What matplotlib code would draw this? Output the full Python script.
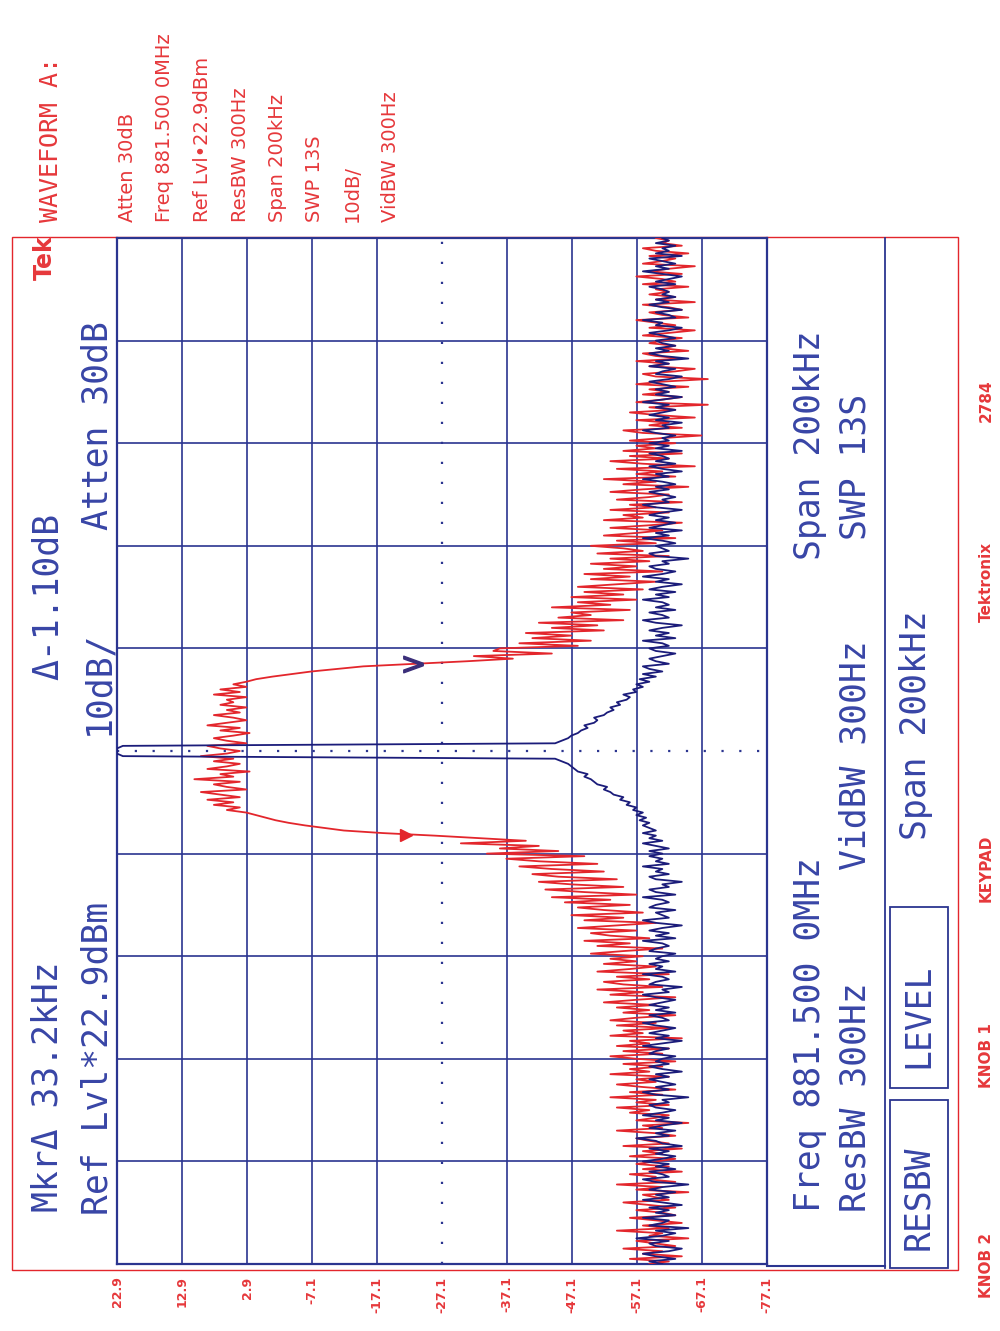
import numpy as np
import matplotlib
matplotlib.use("Agg")
import matplotlib.pyplot as plt
from matplotlib.patches import Rectangle

# ---------------- data ----------------
freq_start_khz = -100.0   # offset from 881.5 MHz centre
freq_step_khz = 0.5

# red trace (modulated carrier), dBm, 0.5 kHz steps from -100 kHz to +100 kHz
red_trace_dbm = [
    -59, -62, -56, -64, -58, -61, -55, -63, -60, -57, -65, -59, -61, -54, -62, -58, -64, -60, -56, -63,   # -100
    -61, -57, -63, -59, -55, -62, -60, -58, -65, -57, -61, -54, -63, -59, -60, -56, -64, -58, -62, -57,   # -90
    -60, -63, -56, -61, -58, -64, -55, -62, -59, -57, -63, -60, -54, -61, -58, -65, -57, -60, -62, -56,   # -80
    -59, -54, -62, -57, -60, -53, -61, -56, -63, -58, -54, -60, -57, -62, -53, -59, -56, -61, -55, -63,   # -70
    -57, -53, -61, -55, -62, -54, -59, -56, -64, -53, -58, -55, -62, -54, -60, -53, -57, -63, -55, -59,   # -60
    -54, -60, -52, -57, -63, -53, -58, -51, -61, -55, -52, -59, -54, -62, -51, -56, -60, -52, -57, -53,   # -50
    -58, -50, -55, -61, -51, -56, -49, -59, -53, -50, -57, -48, -54, -60, -49, -55, -47, -58, -52, -48,   # -40
    -56, -46, -53, -44, -57, -49, -43, -55, -47, -42, -54, -45, -41, -52, -44, -39, -51, -42, -37, -49,   # -30
    -34, -45, -36, -42, -30, -40, -33, -26, -18, -12, -9, -6, -3.5, -1.5, 0, 1.5, 3, 6, 4, 8,             # -20
    5, 9, 4, 7, 10, 3, 6, 8, 4, 11, 5, 7, 2.5, 9, 6, 4, 8, 5, 10, 6,                                     # -10
    4, 7, 9, 3, 6, 8, 5, 2.5, 7, 4, 9, 6, 3, 5, 8, 4, 6, 3, 7, 5,                                        # 0
    6, 3, 8, 4, 7, 3, 5, 3, 1.5, -1, -4, -7, -11, -15, -23, -31, -38, -32, -44, -35,                    # 10
    -36, -48, -39, -50, -41, -47, -40, -52, -44, -51, -42, -55, -45, -50, -47, -56, -44, -53, -48, -57,   # 20
    -47, -55, -49, -58, -48, -54, -60, -50, -56, -49, -61, -52, -57, -50, -59, -53, -62, -51, -58, -55,   # 30
    -50, -60, -54, -63, -52, -57, -61, -53, -59, -64, -52, -58, -55, -62, -53, -60, -56, -64, -54, -59,   # 40
    -62, -53, -58, -65, -55, -60, -52, -63, -57, -61, -54, -66, -58, -53, -62, -56, -64, -55, -60, -57,   # 50
    -63, -56, -61, -67, -58, -55, -64, -59, -62, -57, -66, -60, -56, -63, -59, -68, -57, -61, -64, -58,   # 60
    -62, -59, -65, -57, -61, -68, -60, -58, -63, -66, -59, -62, -57, -64, -60, -58, -65, -61, -63, -59,   # 70
    -61, -64, -58, -62, -66, -59, -63, -60, -57, -65, -61, -59, -64, -62, -58, -66, -60, -63, -59, -62,   # 80
    -60, -65, -58, -63, -61, -57, -64, -59, -62, -66, -58, -61, -63, -59, -65, -60, -58, -64, -61, -62,   # 90
    -60,                                                                                                 # 100
]

# blue trace (unmodulated carrier), dBm, same sweep points
blue_trace_dbm = [
    -61, -59, -63, -60, -58, -62, -64, -60, -59, -62, -57, -61, -63, -60, -65, -59, -61, -62, -58, -63,   # -100
    -60, -62, -59, -64, -61, -58, -62, -60, -63, -59, -61, -65, -60, -58, -62, -61, -59, -63, -60, -62,   # -90
    -58, -61, -63, -60, -62, -59, -64, -61, -60, -57, -62, -60, -63, -59, -61, -64, -60, -62, -58, -61,   # -80
    -63, -60, -59, -62, -61, -65, -60, -58, -62, -60, -63, -61, -59, -62, -60, -64, -61, -59, -62, -60,   # -70
    -61, -63, -59, -60, -62, -58, -61, -64, -60, -62, -59, -61, -63, -60, -58, -62, -61, -59, -63, -60,   # -60
    -62, -59, -61, -63, -60, -58, -62, -61, -64, -59, -60, -62, -61, -58, -63, -60, -61, -59, -62, -60,   # -50
    -61, -63, -59, -60, -62, -61, -58, -63, -60, -62, -59, -61, -64, -60, -58, -62, -61, -60, -63, -59,   # -40
    -60, -62, -61, -58, -63, -60, -59, -62, -61, -64, -60, -59, -62, -60, -61, -58, -62, -60, -61, -59,   # -30
    -61, -59, -62, -60, -58, -61, -59, -60, -58, -60, -59, -58, -59, -57.5, -58.5, -57, -58, -56.5, -57, -55.5,  # -20
    -56, -54.5, -55, -53.5, -53, -52, -52.5, -51, -50.5, -50, -49, -49.5, -48, -47.5, -47, -46.5, -45.5, -44.5, 22.0, 22.9,  # -10
    22.9, 22.9, 22.0, -44.5, -45.5, -46.5, -47, -48, -48.5, -49.5, -49, -50.5, -51, -50.5, -52, -52.5, -53.5, -53, -54.5, -54,  # 0
    -55.5, -56, -55, -57, -56.5, -58, -57, -59, -57.5, -60, -58, -61, -59, -58, -62, -60, -59, -61, -63, -60,  # 10
    -59, -62, -61, -58, -63, -60, -62, -59, -61, -64, -60, -58, -62, -61, -59, -63, -60, -62, -61, -58,   # 20
    -62, -60, -63, -59, -61, -64, -60, -62, -58, -61, -63, -60, -59, -62, -61, -65, -60, -59, -62, -61,   # 30
    -60, -63, -61, -58, -62, -60, -64, -59, -61, -63, -60, -62, -59, -61, -64, -60, -58, -62, -61, -63,   # 40
    -61, -59, -62, -60, -63, -61, -58, -62, -60, -64, -61, -59, -63, -60, -62, -61, -59, -64, -60, -62,   # 50
    -59, -62, -61, -63, -60, -58, -62, -61, -64, -60, -62, -59, -61, -63, -60, -62, -58, -61, -64, -60,   # 60
    -62, -60, -63, -61, -59, -62, -64, -60, -61, -63, -59, -62, -60, -65, -61, -59, -62, -60, -63, -61,   # 70
    -60, -63, -61, -59, -62, -64, -60, -61, -58, -63, -62, -60, -64, -61, -59, -62, -60, -63, -61, -62,   # 80
    -61, -59, -63, -60, -62, -64, -61, -58, -62, -60, -63, -61, -59, -64, -60, -62, -61, -63, -60, -62,   # 90
    -61,                                                                                                 # 100
]

amp_ticks_dbm = [22.9, 12.9, 2.9, -7.1, -17.1, -27.1, -37.1, -47.1, -57.1, -67.1, -77.1]
amp_tick_labels = ["22.9", "12.9", "2.9", "-7.1", "-17.1", "-27.1", "-37.1", "-47.1",
                   "-57.1", "-67.1", "-77.1"]
freq_grid_khz = [-100, -80, -60, -40, -20, 0, 20, 40, 60, 80, 100]
center_amp_dbm = -27.1
center_freq_khz = 0.0
marker_main = (-21.6, -16.3)    # (dBm, kHz)
marker_delta = (-22.7, 16.9)

# ---------------- style ----------------
RED = "#e3262c"
RED_TXT = "#e6383b"
GRID = "#2b3590"
BLUE_TRACE = "#1b1c7a"
BLUE_TXT = "#3845a6"
MONO = "DejaVu Sans Mono"
SANS = "DejaVu Sans"

freq_khz = freq_start_khz + freq_step_khz * np.arange(len(red_trace_dbm))
freq_khz_b = freq_start_khz + freq_step_khz * np.arange(len(blue_trace_dbm))

fig = plt.figure(figsize=(10, 13.31), dpi=100)

# decoration layer in pixel coordinates
deco = fig.add_axes([0, 0, 1, 1])
deco.set_xlim(0, 1000)
deco.set_ylim(1331, 0)
deco.axis("off")

# main graticule
ax = fig.add_axes([117 / 1000, 1 - 1264 / 1331, 650 / 1000, 1026 / 1331])
ax.patch.set_alpha(0)
ax.set_xlim(amp_ticks_dbm[0], amp_ticks_dbm[-1])
ax.set_ylim(freq_grid_khz[0], freq_grid_khz[-1])

for a in amp_ticks_dbm[1:-1]:
    if a == center_amp_dbm:
        ax.axvline(a, color=GRID, lw=1.6, ls=(0, (1, 8)), zorder=1)
    else:
        ax.axvline(a, color=GRID, lw=1.2, zorder=1)
for f in freq_grid_khz[1:-1]:
    if f == center_freq_khz:
        ax.axhline(f, color=GRID, lw=1.6, ls=(0, (1, 7)), zorder=1)
    else:
        ax.axhline(f, color=GRID, lw=1.2, zorder=1)
for s in ax.spines.values():
    s.set_color(GRID)
    s.set_linewidth(1.6)

ax.plot(red_trace_dbm, freq_khz, color=RED, lw=1.3, zorder=3)
ax.plot(blue_trace_dbm, freq_khz_b, color=BLUE_TRACE, lw=1.3, zorder=4)

ax.plot([marker_main[0]], [marker_main[1]], marker=">", ms=9, color=RED,
        mec=RED, ls="none", zorder=5)
ax.plot([marker_delta[0]], [marker_delta[1]], marker="$>$", ms=14, color="#3b2f7a",
        ls="none", zorder=5)

ax.set_xticks(amp_ticks_dbm)
ax.set_xticklabels(amp_tick_labels, rotation=90, fontsize=9, fontweight="bold",
                   color=RED_TXT, family=SANS)
ax.tick_params(axis="x", length=0, pad=9)
ax.set_yticks([])

# frame and soft-key boxes
deco.add_patch(Rectangle((12, 237), 946, 1033, fill=False, ec=RED, lw=1.0))
deco.plot([885, 885], [238, 1268], color=GRID, lw=1.3)
deco.plot([767, 885], [1266, 1266], color=GRID, lw=1.5)
deco.add_patch(Rectangle((890, 907), 58, 181, fill=False, ec=GRID, lw=1.3))
deco.add_patch(Rectangle((890, 1100), 58, 168, fill=False, ec=GRID, lw=1.3))


def rtext(x, y, s, size, color, family=MONO, weight="normal"):
    deco.text(x, y, s, rotation=90, rotation_mode="anchor", ha="left",
              va="baseline", fontsize=size, color=color, family=family,
              fontweight=weight)


# on-screen annotations (blue)
rtext(58, 1212, "MkrΔ 33.2kHz", 25, BLUE_TXT)
rtext(108, 1215, "Ref Lvl*22.9dBm", 25, BLUE_TXT)
rtext(58, 680, "Δ-1.10dB", 25, BLUE_TXT)
rtext(108, 735, "10dB/", 25, BLUE_TXT)
rtext(108, 530, "Atten 30dB", 25, BLUE_TXT)
rtext(52, 280, "Tek", 17, RED_TXT, family=SANS, weight="bold")

rtext(820, 1212, "Freq 881.500 0MHz", 25, BLUE_TXT)
rtext(865, 1212, "ResBW 300Hz", 25, BLUE_TXT)
rtext(865, 870, "VidBW 300Hz", 25, BLUE_TXT)
rtext(820, 560, "Span 200kHz", 25, BLUE_TXT)
rtext(865, 540, "SWP 13S", 25, BLUE_TXT)
rtext(926, 840, "Span 200kHz", 25, BLUE_TXT)
rtext(928, 1250, "RESBW", 25, BLUE_TXT)
rtext(928, 1068, "LEVEL", 25, BLUE_TXT)

# header (red)
rtext(58, 222, "WAVEFORM A:", 18, RED_TXT)
header_lines = ["Atten 30dB", "Freq 881.500 0MHz", "Ref Lvl•22.9dBm", "ResBW 300Hz",
                "Span 200kHz", "SWP 13S", "10dB/", "VidBW 300Hz"]
for i, s in enumerate(header_lines):
    rtext(133 + 37.5 * i, 222, s, 14, RED_TXT, family=SANS)

# footer (red)
footer = [("KNOB 2", 1298), ("KNOB 1", 1088), ("KEYPAD", 902), ("Tektronix", 622), ("2784", 422)]
for s, y in footer:
    rtext(991, y, s, 11, RED_TXT, family=SANS, weight="bold")

fig.savefig("out.png", dpi=100)
